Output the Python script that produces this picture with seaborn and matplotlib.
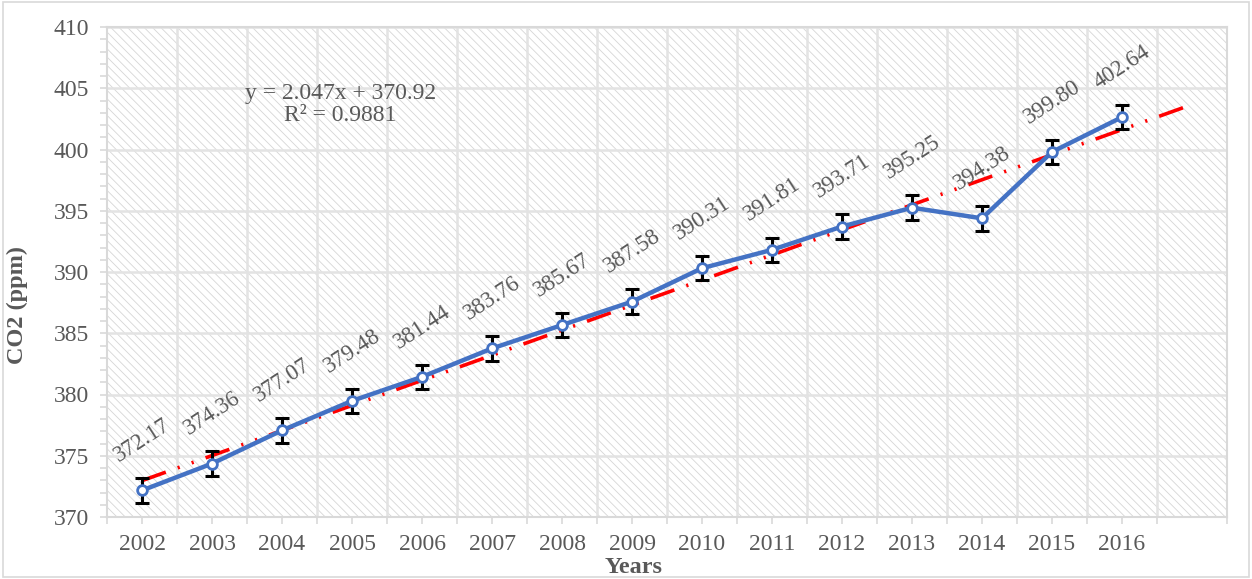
import matplotlib
matplotlib.use("Agg")
import matplotlib.pyplot as plt
from matplotlib.patches import Rectangle
from matplotlib.ticker import MultipleLocator, FixedLocator, NullFormatter
import numpy as np
import pandas as pd
import seaborn as sns

# Annual mean CO2 concentration
years = ["2002", "2003", "2004", "2005", "2006", "2007", "2008", "2009",
         "2010", "2011", "2012", "2013", "2014", "2015", "2016"]
co2 = [372.17, 374.36, 377.07, 379.48, 381.44, 383.76, 385.67, 387.58,
       390.31, 391.81, 393.71, 395.25, 394.38, 399.80, 402.64]
err = [1.0] * len(co2)

# Linear trend (x counted 1..n), extended one period forward
slope = 2.047
intercept = 370.92
r_squared = 0.9881

sns.set_theme(style="white")
plt.rcParams["font.family"] = ["Liberation Serif", "DejaVu Serif"]
plt.rcParams["hatch.linewidth"] = 0.6

grey = "#595959"
light = "#d9d9d9"

df = pd.DataFrame({"pos": np.arange(len(years)), "year": years, "co2": co2, "err": err})

fig = plt.figure(figsize=(12.52, 5.79), dpi=100)
ax = fig.add_axes([107 / 1252, 1 - 517 / 579, 1120 / 1252, 490 / 579])

# hatched plot area background
ax.add_patch(Rectangle((0, 0), 1, 1, transform=ax.transAxes, facecolor="white",
                       edgecolor="#d6d6d6", hatch="\\\\\\\\", linewidth=0, zorder=0))

ax.set_xlim(-0.5, len(years) + 0.5)
ax.set_ylim(370, 410)

# gridlines
for yv in range(375, 411, 5):
    ax.axhline(yv, color="#e3e3e3", lw=1.8, zorder=1)
for xv in np.arange(0.5, len(years) + 0.6, 1):
    ax.axvline(xv, color="#e3e3e3", lw=1.8, zorder=1)

# trend line
trend_x = np.arange(len(years) + 1)
trend_y = slope * (trend_x + 1) + intercept
ax.plot(trend_x, trend_y, color="#ff0000", lw=2.6,
        linestyle=(0, (7, 3.5, 0.6, 3.5, 0.6, 3.5)), zorder=3)

# error bars
ax.errorbar(df["pos"], df["co2"], yerr=df["err"], fmt="none", ecolor="black",
            elinewidth=2.2, capsize=5, capthick=2.2, zorder=4)

# data series
sns.lineplot(data=df, x="pos", y="co2", ax=ax, color="#4472c4", lw=3.2,
             marker="o", markersize=7, markerfacecolor="white",
             markeredgecolor="#4472c4", markeredgewidth=2, zorder=5)

# value labels
for p, v in zip(df["pos"], df["co2"]):
    ax.annotate(f"{v:.2f}", (p, v), xytext=(0, 36), textcoords="offset points",
                ha="center", va="center", rotation=33,
                fontsize=16.5, color=grey, zorder=6)

ax.text(2.83, 403.7, f"y = {slope}x + {intercept}\nR² = {r_squared}", ha="center",
        va="center", multialignment="center", fontsize=17, color=grey, linespacing=1.05)

# axes styling
ax.xaxis.set_major_locator(FixedLocator(np.arange(-0.5, len(years) + 0.6, 1)))
ax.xaxis.set_major_formatter(NullFormatter())
ax.set_xticks(df["pos"], labels=years, minor=True)
ax.yaxis.set_major_locator(MultipleLocator(5))
ax.yaxis.set_minor_locator(MultipleLocator(1))
ax.tick_params(axis="both", which="both", direction="out", length=5, width=1.2,
               color=light, labelcolor=grey, labelsize=17)
ax.tick_params(axis="x", which="minor", pad=7)
ax.tick_params(axis="y", which="major", pad=8)
ax.tick_params(left=True, bottom=True, which="both")
for s in ax.spines.values():
    s.set_color(light)
    s.set_linewidth(1.5)

ax.set_xlabel("Years", fontsize=17.5, fontweight="bold", color=grey)
ax.xaxis.set_label_coords((634 - 107) / 1120, (517 - 557) / 490)
ax.set_ylabel("CO2 (ppm)", fontsize=17.5, fontweight="bold", color=grey)
ax.yaxis.set_label_coords((28 - 107) / 1120, (517 - 305) / 490)

# chart border
fig.patches.append(Rectangle((0.002, 0.003), 0.996, 0.994, transform=fig.transFigure,
                             fill=False, edgecolor=light, lw=1.2))

fig.savefig("out.png", dpi=100)
